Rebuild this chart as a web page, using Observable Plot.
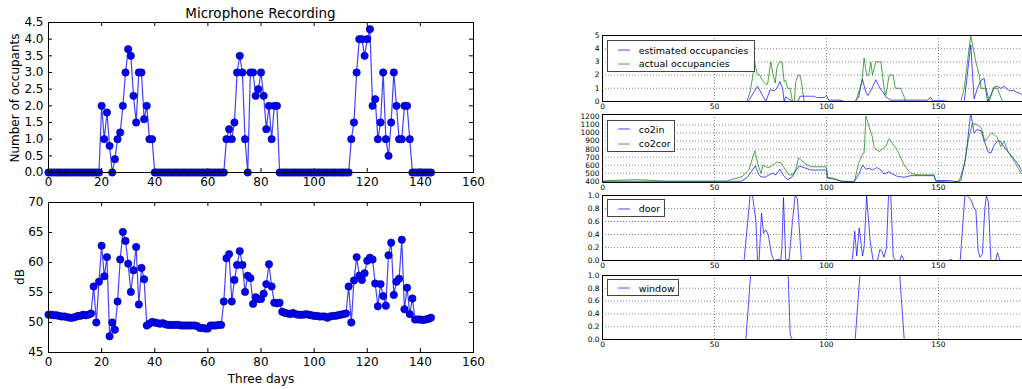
<!DOCTYPE html>
<html><head><meta charset="utf-8">
<script src="https://cdn.jsdelivr.net/npm/d3@7"></script>
<script src="https://cdn.jsdelivr.net/npm/@observablehq/plot@0.6"></script>
<style>
html,body{margin:0;padding:0;background:#fff;}
body{width:1022px;height:389px;overflow:hidden;position:relative;font-family:"DejaVu Sans",sans-serif;color:#000;}
.lbl{position:absolute;white-space:nowrap;line-height:1;transform:translate(-50%,-50%);}
.rot{transform:translate(-50%,-50%) rotate(-90deg);}
.legend{position:absolute;border:1px solid #444;background:#fff;box-sizing:border-box;}
.legend .row{position:absolute;left:0;white-space:nowrap;font-size:9.5px;line-height:1;}
</style></head>
<body>
<script>
// ---------- left panels: Microphone Recording ----------
const occupants = [
  0,0,0,0,0,0,0,0,0,0,0,0,0,0,0,0,0,0,0,0,
  2.0,1.0,1.8,0.8,0,0.4,1.0,1.2,2.0,3.0,3.7,3.5,2.3,1.5,3.0,3.0,1.6,2.0,1.0,1.0,
  0,0,0,0,0,0,0,0,0,0,0,0,0,0,0,0,0,0,0,0,0,0,0,0,0,0,0,
  1.0,1.3,1.0,1.5,3.0,3.5,3.0,1.0,0,3.0,3.0,2.3,2.5,3.0,2.3,1.3,2.0,1.0,2.0,2.0,
  0,0,0,0,0,0,0,0,0,0,0,0,0,0,0,0,0,0,0,0,0,0,0,0,0,0,0,
  1.0,1.5,3.0,4.0,4.0,3.5,4.0,4.3,2.0,2.2,1.0,1.5,3.0,1.0,0.5,1.5,3.0,2.0,1.0,1.0,2.0,2.0,1.0,
  0,0,0,0,0,0,0,0
];
const decibels = [
  51.3,51.3,51.2,51.2,51.1,51.0,51.0,50.9,50.8,50.8,50.9,51.1,51.1,51.3,51.2,51.3,51.5,
  56.0,50.0,56.8,62.8,57.7,60.9,47.7,50.0,48.8,53.5,60.5,65.1,63.6,59.8,55.1,58.7,62.6,53.0,59.1,57.2,49.5,
  49.8,50.1,50.0,49.9,49.8,49.9,49.7,49.6,49.6,49.6,49.6,49.6,49.5,49.5,49.5,49.5,49.5,49.5,49.4,49.1,49.1,49.0,49.0,49.5,49.5,49.5,49.6,49.6,
  53.5,60.7,61.4,53.5,57.1,59.6,61.9,59.6,55.1,57.8,57.4,53.1,54.2,53.9,53.9,54.8,56.4,59.7,56.0,53.3,53.2,53.3,
  51.8,51.6,51.5,51.4,51.6,51.4,51.3,51.3,51.3,51.4,51.3,51.2,51.1,51.1,51.0,51.0,51.0,50.8,51.0,51.1,51.1,51.2,51.3,51.4,51.5,
  56.0,50.0,57.0,60.9,57.8,57.1,58.2,60.3,60.8,60.5,56.5,52.7,56.4,54.4,52.8,61.2,63.3,54.6,56.8,57.3,63.8,52.2,55.8,51.4,54.0,
  50.5,50.5,50.5,50.4,50.5,50.6,50.8
];
const leftXTicks = [0,20,40,60,80,100,120,140,160];
const occTicks = [0,0.5,1.0,1.5,2.0,2.5,3.0,3.5,4.0,4.5];
const dbTicks = [45,50,55,60,65,70];

// ---------- right panels ----------
const rightXTicks = [0,50,100,150];
const estX = [0,65,69.2,72.9,74.9,76.6,77.8,79.2,80.4,81.1,81.8,84,84.8,87.2,88.2,94.5,95.5,99,100,101,106,108,112.5,114.3,116,117.6,118.5,120,122,123.3,124.3,125.7,126.5,128.7,145,146.6,147.5,152.5,154,161.5,164.4,165.9,167.4,169,170.4,171.9,173.4,174.9,176.3,177.8,179.3,180.8,182.3,183.5,185,186.5,188];
const estY = [0,0,1.15,0,0.9,0.8,1.0,1.5,1.0,0,0.35,0.1,0,0,0.4,0.4,0.3,0.3,0.45,0.1,0.1,0,0,0.3,1.7,0.7,0.45,0.9,1.65,1.2,0.9,0.6,0.35,0.1,0.1,0.3,0.05,0.05,0,0,4.3,0.2,1.0,1.6,1.75,0,0.5,1.1,1.15,1.0,1.15,0.9,0.8,0.85,0.7,0.6,0.35];
const actX = [0,64.5,66,68,69,70.2,71.4,72.9,73.7,75.1,76.2,77.1,77.8,78.9,80.1,81.1,81.8,82.6,83.8,84.8,85.6,86.3,87.4,88.1,88.8,90,113.1,114.9,115.8,116.8,117.9,118.8,119.8,120.5,122,124.3,125.7,126.5,128,129.8,130.7,133.2,135.4,160,161.5,164.4,166.7,168.2,169,171.3,172.6,174.6,176.3,178.6,188];
const actY = [0,0,0.8,2.9,2.1,2.0,1.6,1.3,1.3,3.0,2.0,1.4,2.5,3.0,3.0,1.5,1.6,1.0,1.0,0,0,1.5,2.0,2.0,1.5,0,0,1.0,1.5,3.3,2.0,2.0,3.0,2.0,3.0,3.0,1.0,0.5,2.0,2.0,1.0,1.0,0,0,1.0,5.0,3.0,2.0,1.0,1.0,0,1.0,1.0,0,0];
const occRightTicks = [0,1,2,3,4,5];

const co2inX = [0,62,64.7,68.2,69.5,70.7,72.5,74.4,75.9,77.4,79.2,80.8,82.6,84.5,86.3,87.8,90,93,100,100.4,102.7,106.4,112.4,114.6,116.1,117.6,119,120.5,122.5,124.3,125.7,128,129.5,131.7,134.7,137.6,148,148.8,154,158.5,160,162.2,164.4,165.9,167.1,169,170.4,172.3,173.4,174.9,176.3,177.5,178.6,180.1,181.6,183.1,185.3,188];
const co2inY = [400,400,450,590,500,455,450,480,500,480,550,470,420,450,530,590,570,540,540,440,430,400,395,500,600,550,560,540,570,540,490,520,490,460,450,470,470,410,410,395,410,700,1250,1000,1040,1030,900,760,750,850,900,900,850,800,750,700,620,500];
const co2corX = [0,3.7,15.6,23,27.5,55,57.3,62.5,65.5,68,69.5,70.7,71.6,73.7,75.1,77.8,79.6,81.5,83.3,84.8,86.3,87.5,90,93,100,100.4,102.7,107.1,112.4,114.3,116.1,116.8,117.6,119,120.5,121.3,122,123.5,125,126.5,128,129.5,131.7,134.7,137.6,140.6,148,148.8,155.5,159.2,161.5,163.2,165.2,167.4,169.2,170.7,171.9,173.7,174.9,176.3,177.8,179.3,180.8,183.1,185.3,186.8,188];
const co2corY = [400,410,420,410,400,400,420,460,550,780,600,500,600,570,580,640,630,550,480,480,550,690,630,580,580,450,440,400,390,620,740,750,1210,1080,950,820,800,770,800,840,930,870,780,600,500,480,480,400,390,400,600,900,1120,1100,1060,900,940,1000,980,940,830,900,780,680,580,500,490];
const co2Ticks = [400,500,600,700,800,900,1000,1100,1200];

const doorX = [0,63.2,65.9,67,68.5,69.2,69.9,71,71.9,72.9,74,75.4,76.6,78.9,79.6,80.1,80.8,81.8,83.3,84.8,86,87,88.8,110.9,111.6,112.6,113.5,114.6,116.1,116.8,117.9,119.5,120.8,122.8,123.8,124.7,125.7,126.8,127.7,128.7,129.8,131,132.7,133.5,134.7,154.8,155.5,156.3,159.7,161.8,162.7,164.1,164.9,165.9,166.7,167.7,168.6,169.6,170.7,171.4,172.3,173.4,175.6,176.3,177.5,188];
const doorY = [0,0,1.0,1.0,0.6,0,0,0.73,0.42,0.47,0.4,0.1,0,0.02,0,0.2,0.97,0,0.02,0.6,1.0,0.95,0,0,0.02,0.45,0.07,0.5,0.07,0.2,1.0,0.3,0,0,0.17,0.15,0.05,0.2,1.0,1.0,0.05,0,0,0.08,0,0,0.02,0,0,1.0,1.0,0.95,0.9,0.8,0.78,0.15,0.05,0.1,0.8,1.0,0.9,0,0,0.12,0,0];
const windowX = [0,64,66.1,82.9,83.8,84.8,112.8,114.9,132.7,134.7,188];
const windowY = [0,0,1.0,1.0,0.07,0,0,1.0,1.0,0,0];
const unitTicks = [0,0.2,0.4,0.6,0.8,1.0];

const BLUE = "#0000ff", GREEN = "#008000";
const FONT = '"DejaVu Sans", sans-serif';

function place(node, left, top) {
  node.style.position = "absolute";
  node.style.left = left + "px";
  node.style.top = top + "px";
  document.body.appendChild(node);
}
function label(text, x, y, size, rotate) {
  const d = document.createElement("div");
  d.className = "lbl" + (rotate ? " rot" : "");
  d.style.left = x + "px"; d.style.top = y + "px";
  d.style.fontSize = size + "px";
  d.textContent = text;
  document.body.appendChild(d);
}

function leftPanel(values, yDomain, yTicks, fmt, top) {
  const pw = 425, ph = 150, mt = 22, mb = 25, ml = 48, mr = 17;
  const pts = values.map((v, i) => ({i, v}));
  const svg = Plot.plot({
    width: ml + pw + mr, height: mt + ph + mb,
    marginLeft: ml, marginRight: mr, marginTop: mt, marginBottom: mb,
    x: {domain: [0, 160]}, y: {domain: yDomain},
    style: {fontFamily: FONT, fontSize: "12px", color: "#000", background: "transparent", overflow: "visible"},
    marks: [
      Plot.ruleX(leftXTicks, {x: d => d, insetTop: ph - 4, stroke: "#000"}),
      Plot.ruleX(leftXTicks, {x: d => d, insetBottom: ph - 4, stroke: "#000"}),
      Plot.ruleY(yTicks, {y: d => d, insetRight: pw - 4, stroke: "#000"}),
      Plot.ruleY(yTicks, {y: d => d, insetLeft: pw - 4, stroke: "#000"}),
      Plot.line(pts, {x: "i", y: "v", stroke: BLUE, strokeOpacity: 0.75, strokeWidth: 1.2}),
      Plot.dot(pts, {x: "i", y: "v", r: 3.7, fill: BLUE, stroke: "#00007a", strokeWidth: 0.6}),
      Plot.frame({stroke: "#000"}),
      Plot.axisX(leftXTicks, {tickSize: 0, tickPadding: 5, label: null}),
      Plot.axisY(yTicks, {tickSize: 0, tickPadding: 5, tickFormat: fmt, label: null})
    ]
  });
  place(svg, 0, top);
}

function rightPanel(series, yDomain, yTicks, fmt, frameTop, ph) {
  const ml = 42, mr = 10, mt = 10, mb = 14, pw = 190 * 2.24;
  const marks = [
    Plot.gridX(rightXTicks.slice(1), {x: d => d, stroke: "#777", strokeOpacity: 0.9, strokeDasharray: "1,2"}),
    Plot.gridY(yTicks.slice(1, -1), {y: d => d, stroke: "#777", strokeOpacity: 0.9, strokeDasharray: "1,2"})
  ];
  for (const s of series) {
    const pts = s.x.map((x, i) => ({x, y: s.y[i]}));
    marks.push(Plot.line(pts, {x: "x", y: "y", stroke: s.color, strokeOpacity: 0.7, strokeWidth: 1, clip: true}));
  }
  marks.push(
    Plot.frame({stroke: "#000"}),
    Plot.axisX(rightXTicks, {tickSize: 0, tickPadding: 2, label: null}),
    Plot.axisY(yTicks, {tickSize: 0, tickPadding: 3, tickFormat: fmt, label: null})
  );
  const svg = Plot.plot({
    width: ml + pw + mr, height: mt + ph + mb,
    marginLeft: ml, marginRight: mr, marginTop: mt, marginBottom: mb,
    x: {domain: [0, 190]}, y: {domain: yDomain},
    style: {fontFamily: FONT, fontSize: "7.5px", color: "#000", background: "transparent", overflow: "visible"},
    marks
  });
  place(svg, 560, frameTop - mt);
}

function legend(entries, left, top, width, height, rowYs) {
  const box = document.createElement("div");
  box.className = "legend";
  box.style.left = left + "px"; box.style.top = top + "px";
  box.style.width = width + "px"; box.style.height = height + "px";
  entries.forEach((e, k) => {
    const row = document.createElement("div");
    row.className = "row";
    row.style.top = (rowYs[k] - 6) + "px";
    row.style.height = "12px";
    row.innerHTML = `<svg width="24" height="12" style="position:absolute;left:0;top:0"><line x1="10" x2="22" y1="6" y2="6" stroke="${e.color}" stroke-opacity="0.7" stroke-width="1"/></svg>`;
    const t = document.createElement("span");
    t.textContent = e.name;
    t.style.position = "absolute"; t.style.left = "31px"; t.style.top = "1.5px";
    row.appendChild(t);
    box.appendChild(row);
  });
  document.body.appendChild(box);
}

leftPanel(occupants, [0, 4.5], occTicks, d => d.toFixed(1), 0);
leftPanel(decibels, [45, 70], dbTicks, d => String(d), 180);
label("Microphone Recording", 260.5, 14, 13.5);
label("Number of occupants", 15, 98, 12, true);
label("dB", 20, 277, 12, true);
label("Three days", 261, 379, 12);

rightPanel([{x: estX, y: estY, color: BLUE}, {x: actX, y: actY, color: GREEN}], [0, 5], occRightTicks, d => String(d), 35, 66);
rightPanel([{x: co2inX, y: co2inY, color: BLUE}, {x: co2corX, y: co2corY, color: GREEN}], [385, 1230], co2Ticks, d => String(d), 114, 68);
rightPanel([{x: doorX, y: doorY, color: BLUE}], [0, 1], unitTicks, d => d.toFixed(1), 195, 65);
rightPanel([{x: windowX, y: windowY, color: BLUE}], [0, 1], unitTicks, d => d.toFixed(1), 275, 64);

legend([{name: "estimated occupancies", color: BLUE}, {name: "actual occupancies", color: GREEN}], 606.7, 40, 148, 32, [9, 22.7]);
legend([{name: "co2in", color: BLUE}, {name: "co2cor", color: GREEN}], 606.7, 120, 68, 32, [8.3, 22.7]);
legend([{name: "door", color: BLUE}], 606.7, 199, 58, 18, [8.7]);
legend([{name: "window", color: BLUE}], 606.7, 279, 72, 17, [8.3]);
</script>
</body></html>
